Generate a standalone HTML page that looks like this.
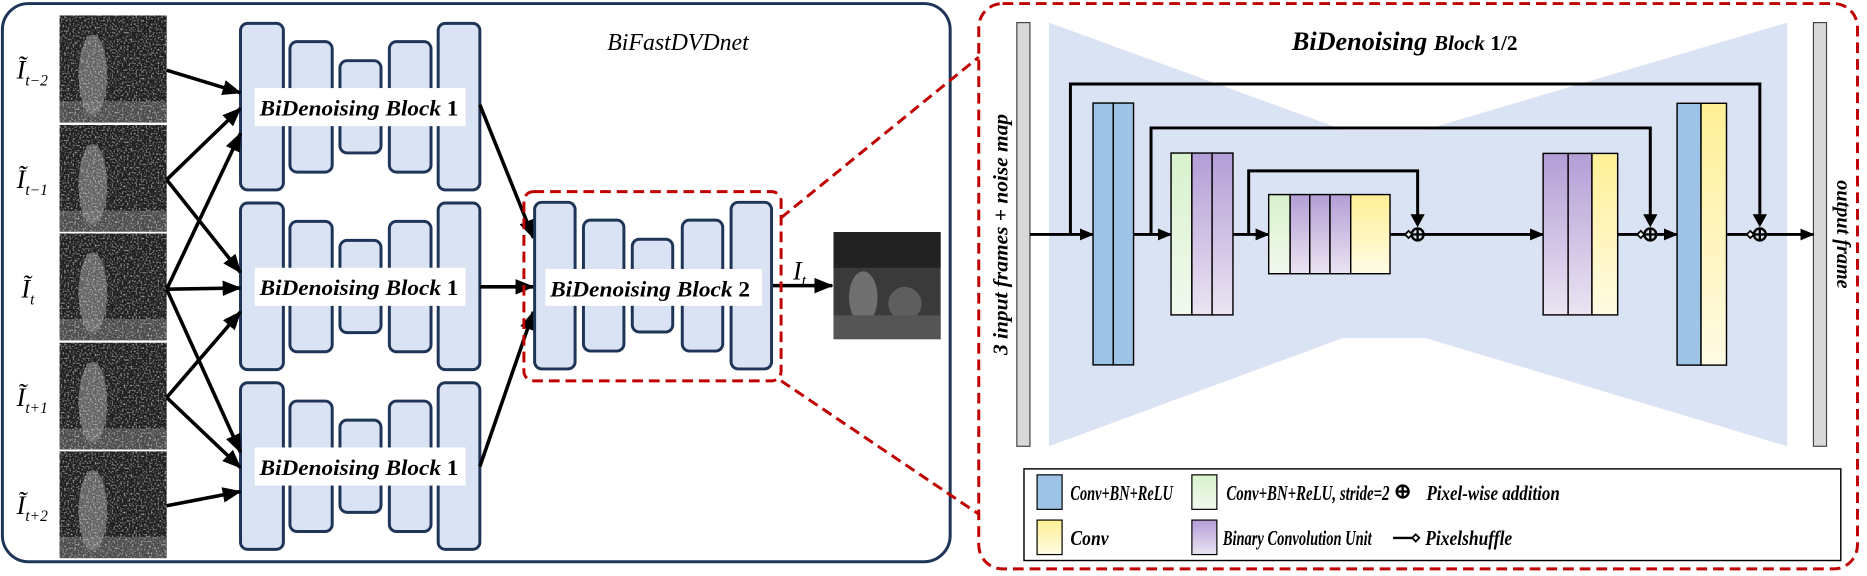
<!DOCTYPE html>
<html><head><meta charset="utf-8"><style>
html,body{margin:0;padding:0;background:#fff;}
svg{display:block;}
text{font-family:"Liberation Serif",serif;}
</style></head><body>
<svg width="1867" height="576" viewBox="0 0 1568 484" preserveAspectRatio="none" xmlns="http://www.w3.org/2000/svg">
<defs>
<marker id="ah" markerWidth="12" markerHeight="10" refX="11" refY="5" orient="auto" markerUnits="userSpaceOnUse"><path d="M0,0 L12,5 L0,10 z" fill="#000"/></marker>
<marker id="ahb" markerWidth="16" markerHeight="13" refX="15" refY="6.5" orient="auto" markerUnits="userSpaceOnUse"><path d="M0,0 L16,6.5 L0,13 z" fill="#000"/></marker>
<linearGradient id="gp" x1="0" y1="0" x2="0" y2="1"><stop offset="0" stop-color="#b39dd6"/><stop offset="1" stop-color="#ebe4f2"/></linearGradient>
<linearGradient id="gg" x1="0" y1="0" x2="0" y2="1"><stop offset="0" stop-color="#d8f1cc"/><stop offset="1" stop-color="#f1f9ee"/></linearGradient>
<linearGradient id="gy" x1="0" y1="0" x2="0" y2="1"><stop offset="0" stop-color="#fff096"/><stop offset="1" stop-color="#fffbe4"/></linearGradient>
<filter id="noise" x="0" y="0" width="100%" height="100%"><feTurbulence type="fractalNoise" baseFrequency="0.7" numOctaves="1" seed="3"/><feColorMatrix type="matrix" values="0 0 0 0 0.8  0 0 0 0 0.8  0 0 0 0 0.8  2.2 0 0 0 -1.05"/></filter>
<g id="frame">
<rect width="90" height="90" fill="#1e1e1e"/>
<ellipse cx="28" cy="50" rx="12" ry="34" fill="#9a9a9a" opacity="0.55"/>
<rect y="72" width="90" height="18" fill="#777" opacity="0.5"/>
<rect width="90" height="90" filter="url(#noise)"/>
</g>
<g id="b1" stroke="#1f3557" stroke-width="2.5" fill="#dae3f3">
<rect x="202" y="19.6" width="36" height="140" rx="6"/>
<rect x="243.5" y="35" width="35.5" height="109.6" rx="6"/>
<rect x="285.5" y="51" width="34.5" height="77.5" rx="6"/>
<rect x="327" y="35" width="35" height="109.6" rx="6"/>
<rect x="368" y="19.6" width="35" height="140" rx="6"/>
</g>
</defs>

<!-- LEFT PANEL -->
<rect x="2" y="3" width="796" height="469" rx="22" fill="none" stroke="#1f3557" stroke-width="2.5"/>
<text x="510" y="42" font-size="20" font-style="italic">BiFastDVDnet</text>

<use href="#frame" x="50" y="13"/>
<use href="#frame" x="50" y="105"/>
<use href="#frame" x="50" y="196"/>
<use href="#frame" x="50" y="288"/>
<use href="#frame" x="50" y="379"/>
<g stroke="#fff" stroke-width="1.5"><line x1="50" y1="104" x2="140" y2="104"/><line x1="50" y1="195.5" x2="140" y2="195.5"/><line x1="50" y1="287" x2="140" y2="287"/><line x1="50" y1="378.5" x2="140" y2="378.5"/></g>

<g font-size="22" font-style="italic">
<text x="14" y="66">Ĩ<tspan font-size="13" dy="6">t−2</tspan></text>
<text x="14" y="158">Ĩ<tspan font-size="13" dy="6">t−1</tspan></text>
<text x="18" y="250">Ĩ<tspan font-size="13" dy="6">t</tspan></text>
<text x="14" y="341">Ĩ<tspan font-size="13" dy="6">t+1</tspan></text>
<text x="14" y="432">Ĩ<tspan font-size="13" dy="6">t+2</tspan></text>
</g>

<use href="#b1"/>
<use href="#b1" y="151"/>
<use href="#b1" y="302"/>
<g fill="#fff"><rect x="214" y="74" width="177" height="32"/><rect x="214" y="225" width="177" height="32"/><rect x="214" y="376" width="177" height="32"/></g>
<g font-size="19" font-weight="bold" font-style="italic">
<text x="218" y="97" textLength="167" lengthAdjust="spacingAndGlyphs">BiDenoising Block <tspan font-style="normal">1</tspan></text>
<text x="218" y="248" textLength="167" lengthAdjust="spacingAndGlyphs">BiDenoising Block <tspan font-style="normal">1</tspan></text>
<text x="218" y="399" textLength="167" lengthAdjust="spacingAndGlyphs">BiDenoising Block <tspan font-style="normal">1</tspan></text>
</g>

<!-- input arrows -->
<g stroke="#000" stroke-width="3" marker-end="url(#ahb)">
<line x1="140" y1="59" x2="202" y2="78"/>
<line x1="140" y1="151" x2="202" y2="91"/>
<line x1="140" y1="243" x2="202" y2="112"/>
<line x1="140" y1="151" x2="202" y2="229"/>
<line x1="140" y1="243" x2="202" y2="242"/>
<line x1="140" y1="334" x2="202" y2="262"/>
<line x1="140" y1="243" x2="202" y2="380"/>
<line x1="140" y1="334" x2="202" y2="393"/>
<line x1="140" y1="425" x2="202" y2="413"/>
<line x1="403" y1="88" x2="448" y2="200"/>
<line x1="403" y1="241" x2="448" y2="241"/>
<line x1="403" y1="392" x2="448" y2="262"/>
<line x1="648" y1="240" x2="699" y2="240"/>
</g>

<!-- block 2 -->
<g stroke="#1f3557" stroke-width="2.5" fill="#dae3f3">
<rect x="449" y="170" width="34" height="140" rx="6"/>
<rect x="490" y="185" width="34" height="110" rx="6"/>
<rect x="531" y="201" width="34" height="78" rx="6"/>
<rect x="573" y="185" width="34" height="110" rx="6"/>
<rect x="614" y="170" width="34" height="140" rx="6"/>
</g>
<rect x="458" y="226" width="182" height="31" fill="#fff"/>
<text x="462" y="249" font-size="19" font-weight="bold" font-style="italic" textLength="168" lengthAdjust="spacingAndGlyphs">BiDenoising Block <tspan font-style="normal">2</tspan></text>
<rect x="440" y="161" width="216" height="159" rx="8" fill="none" stroke="#c00000" stroke-width="2.5" stroke-dasharray="9,5"/>
<text x="666" y="235" font-size="22" font-style="italic">I<tspan font-size="13" dy="5">t</tspan></text>

<!-- output image -->
<rect x="700" y="195" width="90" height="90" fill="#3a3a3a"/>
<rect x="700" y="195" width="90" height="30" fill="#222"/>
<ellipse cx="725" cy="250" rx="12" ry="22" fill="#888" opacity="0.7"/>
<ellipse cx="760" cy="255" rx="14" ry="14" fill="#777" opacity="0.6"/>
<rect x="700" y="265" width="90" height="20" fill="#555"/>

<!-- zoom lines -->
<g stroke="#c00000" stroke-width="2.5" stroke-dasharray="9,5"><line x1="656" y1="183" x2="822" y2="48"/><line x1="656" y1="320" x2="822" y2="432"/></g>

<!-- RIGHT PANEL -->
<rect x="822" y="3" width="738" height="475" rx="20" fill="none" stroke="#c00000" stroke-width="2.5" stroke-dasharray="9,5"/>
<polygon points="881,19 1128,109 1197,109 1501,19 1501,375 1197,284 1128,284 881,375" fill="#dae3f3"/>
<rect x="854" y="19" width="11" height="356" fill="#d9d9d9" stroke="#444" stroke-width="1"/>
<rect x="1523" y="19" width="11" height="356" fill="#d9d9d9" stroke="#444" stroke-width="1"/>
<text x="1085" y="42" font-size="22" font-weight="bold" font-style="italic">BiDenoising <tspan font-size="18">Block </tspan><tspan font-size="18" font-style="normal">1/2</tspan></text>
<text transform="translate(846,197) rotate(-90)" text-anchor="middle" font-size="18" font-weight="bold" font-style="italic">3 input frames + noise map</text>
<text transform="translate(1543,197) rotate(90)" text-anchor="middle" font-size="17" font-weight="bold" font-style="italic">output frame</text>

<!-- skip lines -->
<g fill="none" stroke="#000" stroke-width="2.5">
<polyline points="899,197 899,70.6 1478,70.6 1478,185"/>
<polyline points="966.7,197 966.7,107.5 1386,107.5 1386,185"/>
<polyline points="1048.7,197 1048.7,143.6 1190.6,143.6 1190.6,185"/>
</g>
<g fill="#000">
<path d="M1472,180 L1484,180 L1478,191z"/><path d="M1380,180 L1392,180 L1386,191z"/><path d="M1184.6,180 L1196.6,180 L1190.6,191z"/>
</g>
<!-- main line -->
<g stroke="#000" stroke-width="2.5" marker-end="url(#ah)">
<line x1="865" y1="197" x2="918" y2="197"/>
<line x1="952" y1="197" x2="983.5" y2="197"/>
<line x1="1035.5" y1="197" x2="1065.5" y2="197"/>
<line x1="1167.4" y1="197" x2="1296" y2="197"/>
<line x1="1358.6" y1="197" x2="1408.5" y2="197"/>
<line x1="1450" y1="197" x2="1523" y2="197"/>
</g>
<g fill="none" stroke="#000" stroke-width="2">
<circle cx="1190.6" cy="197" r="5" fill="#dae3f3"/><line x1="1185.6" y1="197" x2="1195.6" y2="197"/><line x1="1190.6" y1="192" x2="1190.6" y2="202"/>
<circle cx="1386" cy="197" r="5" fill="#dae3f3"/><line x1="1381" y1="197" x2="1391" y2="197"/><line x1="1386" y1="192" x2="1386" y2="202"/>
<circle cx="1478" cy="197" r="5" fill="#dae3f3"/><line x1="1473" y1="197" x2="1483" y2="197"/><line x1="1478" y1="192" x2="1478" y2="202"/>
</g>
<g fill="#fff" stroke="#000" stroke-width="1.5"><path d="M1180,197 l3,-3 l3,3 l-3,3z"/><path d="M1375,197 l3,-3 l3,3 l-3,3z"/><path d="M1467,197 l3,-3 l3,3 l-3,3z"/></g>

<!-- blocks -->
<g stroke="#000" stroke-width="1.2">
<rect x="918" y="86.6" width="17" height="220" fill="#9dc3e6"/><rect x="935" y="86.6" width="17" height="220" fill="#9dc3e6"/>
<rect x="983.5" y="128.6" width="17.5" height="136" fill="url(#gg)"/><rect x="1001" y="128.6" width="17" height="136" fill="url(#gp)"/><rect x="1018" y="128.6" width="17.5" height="136" fill="url(#gp)"/>
<rect x="1065.5" y="163.5" width="18" height="66.5" fill="url(#gg)"/><rect x="1083.5" y="163.5" width="16.5" height="66.5" fill="url(#gp)"/><rect x="1100" y="163.5" width="17" height="66.5" fill="url(#gp)"/><rect x="1117" y="163.5" width="17.4" height="66.5" fill="url(#gp)"/><rect x="1134.4" y="163.5" width="33" height="66.5" fill="url(#gy)"/>
<rect x="1296" y="128.9" width="21" height="135.7" fill="url(#gp)"/><rect x="1317" y="128.9" width="20" height="135.7" fill="url(#gp)"/><rect x="1337" y="128.9" width="21.6" height="135.7" fill="url(#gy)"/>
<rect x="1408.5" y="86.8" width="20.1" height="220" fill="#9dc3e6"/><rect x="1428.6" y="86.8" width="21.4" height="220" fill="url(#gy)"/>
</g>

<!-- legend -->
<rect x="860" y="394" width="686" height="77" fill="#fff" stroke="#000" stroke-width="1.2"/>
<g stroke="#000" stroke-width="1">
<rect x="871" y="399" width="21" height="29" fill="#9dc3e6"/>
<rect x="871" y="437" width="21" height="29" fill="url(#gy)"/>
<rect x="1001" y="399" width="21" height="29" fill="url(#gg)"/>
<rect x="1001" y="437" width="21" height="29" fill="url(#gp)"/>
</g>
<g font-size="18" font-weight="bold" font-style="italic">
<text x="899" y="420" textLength="86" lengthAdjust="spacingAndGlyphs">Conv+BN+ReLU</text>
<text x="899" y="458" textLength="32" lengthAdjust="spacingAndGlyphs">Conv</text>
<text x="1030" y="420" textLength="137" lengthAdjust="spacingAndGlyphs">Conv+BN+ReLU, stride=2</text>
<text x="1027" y="458" textLength="125" lengthAdjust="spacingAndGlyphs">Binary Convolution Unit</text>
<text x="1198" y="420" textLength="112" lengthAdjust="spacingAndGlyphs">Pixel-wise addition</text>
<text x="1197" y="458" textLength="73" lengthAdjust="spacingAndGlyphs">Pixelshuffle</text>
</g>
<g stroke="#000" stroke-width="2" fill="none">
<circle cx="1178" cy="413" r="5"/><line x1="1173" y1="413" x2="1183" y2="413"/><line x1="1178" y1="408" x2="1178" y2="418"/>
<line x1="1170" y1="452" x2="1186" y2="452"/>
</g>
<path d="M1186,452 l3,-3 l3,3 l-3,3z" fill="#fff" stroke="#000" stroke-width="1.5"/>
</svg>
</body></html>
